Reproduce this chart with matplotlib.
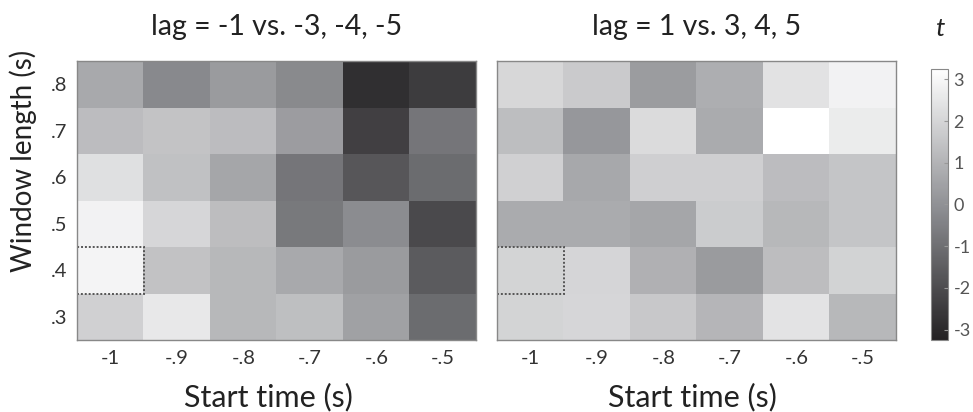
import numpy as np
import matplotlib
matplotlib.use("Agg")
import matplotlib.pyplot as plt
from matplotlib.colors import LinearSegmentedColormap
from matplotlib.patches import Rectangle

plt.rcParams['font.family'] = ['Lato', 'DejaVu Sans']

start_times = [-1.0, -0.9, -0.8, -0.7, -0.6, -0.5]
window_lengths = [0.3, 0.4, 0.5, 0.6, 0.7, 0.8]
x_tick_labels = ['-1', '-.9', '-.8', '-.7', '-.6', '-.5']
y_tick_labels = ['.3', '.4', '.5', '.6', '.7', '.8']

# rows: window length .3 (bottom) ... .8 (top); columns: start time -1 ... -.5
t_left = np.array([
    [1.86, 2.57, 1.15, 1.36, 0.47, -1.09],   # .3
    [2.93, 1.45, 1.15, 0.71, 0.30, -1.57],   # .4
    [2.87, 2.04, 1.30, -0.71, -0.15, -2.07], # .5
    [2.33, 1.42, 0.62, -0.80, -1.68, -1.09], # .6
    [1.27, 1.48, 1.27, 0.35, -2.36, -0.80],  # .7
    [0.71, -0.24, 0.30, -0.21, -2.84, -2.45],# .8
])
t_right = np.array([
    [1.98, 2.04, 1.63, 1.09, 2.42, 1.15],    # .3
    [1.98, 2.01, 0.92, 0.30, 1.30, 1.95],    # .4
    [0.77, 0.77, 0.62, 1.74, 1.15, 1.54],    # .5
    [1.86, 0.68, 1.83, 1.83, 1.27, 1.54],    # .6
    [1.33, 0.18, 2.19, 0.77, 3.25, 2.69],    # .7
    [2.07, 1.68, 0.33, 0.86, 2.39, 2.87],    # .8
])
titles = ['lag = -1 vs. -3, -4, -5', 'lag = 1 vs. 3, 4, 5']
cbar_ticks = [-3, -2, -1, 0, 1, 2, 3]
highlight = (-1.0, 0.4)
vmin, vmax = -3.25, 3.25

cmap = LinearSegmentedColormap.from_list(
    'graytint', [(0.0, '#232123'), (0.48, '#8c8d91'), (1.0, '#ffffff')])

fig = plt.figure(figsize=(9.73, 4.12), dpi=100)
W, H = 973, 412

def ax_rect(x0, x1, y0, y1):
    return [x0 / W, (H - y1) / H, (x1 - x0) / W, (y1 - y0) / H]

dx = start_times[1] - start_times[0]
dy = window_lengths[1] - window_lengths[0]
extent = [start_times[0] - dx / 2, start_times[-1] + dx / 2,
          window_lengths[0] - dy / 2, window_lengths[-1] + dy / 2]

axes = [fig.add_axes(ax_rect(77, 476, 61, 340)),
        fig.add_axes(ax_rect(497, 896, 61, 340))]
xlabel_x = [0.479, 0.49]
for i, (ax, data, title) in enumerate(zip(axes, [t_left, t_right], titles)):
    im = ax.imshow(data, origin='lower', extent=extent, aspect='auto',
                   cmap=cmap, vmin=vmin, vmax=vmax, interpolation='nearest')
    ax.add_patch(Rectangle((highlight[0] - dx / 2, highlight[1] - dy / 2), dx, dy,
                           fill=False, ls=(0, (1, 1)), lw=1.4, ec='#555555'))
    ax.set_xticks(start_times)
    ax.set_xticklabels(x_tick_labels)
    ax.set_yticks(window_lengths)
    if i == 0:
        ax.set_yticklabels(y_tick_labels)
        ax.set_ylabel('Window length (s)', fontsize=20, color='#222222')
        ax.yaxis.set_label_coords(-0.10, 0.642)
    else:
        ax.set_yticklabels([])
    ax.tick_params(length=0, labelsize=14.5, colors='#333333', pad=7)
    ax.set_xlabel('Start time (s)', fontsize=22, color='#222222')
    ax.xaxis.set_label_coords(xlabel_x[i], -0.155)
    ax.xaxis.label.set_va('top')
    ax.set_title(title, fontsize=20.5, color='#222222', pad=19)
    for s in ax.spines.values():
        s.set_color('#888888')
        s.set_linewidth(1.0)

cax = fig.add_axes(ax_rect(931, 948, 69, 340))
cb = fig.colorbar(im, cax=cax)
cb.set_ticks(cbar_ticks)
cb.set_ticklabels([str(v) for v in cbar_ticks])
cax.tick_params(direction='in', length=3, width=0.8, color='#999999',
                labelsize=13, labelcolor='#555555', pad=4)
cb.outline.set_edgecolor('#888888')
cb.outline.set_linewidth(0.8)
fig.text(940 / W, 1 - 29 / H, 't', fontsize=19, style='italic',
         ha='center', va='center', color='#222222')

fig.savefig('out.png', dpi=100)
